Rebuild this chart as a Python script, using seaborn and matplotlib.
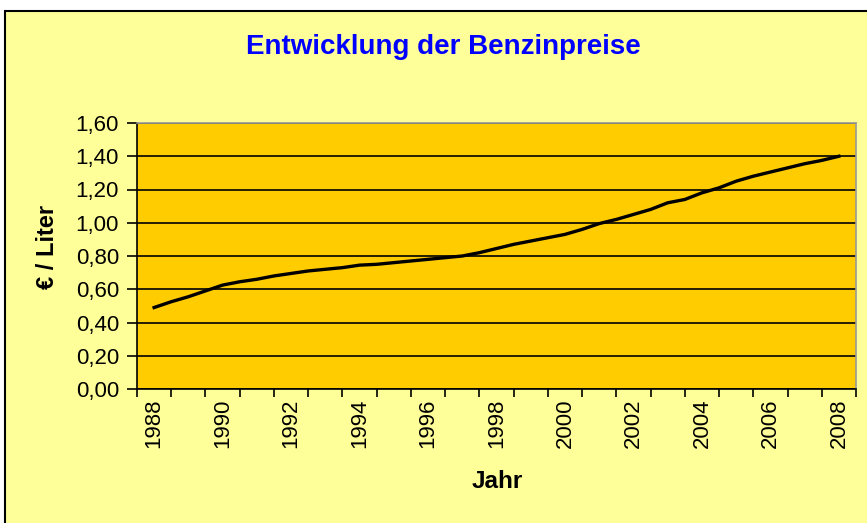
import numpy as np
import pandas as pd
import matplotlib
matplotlib.use("Agg")
import matplotlib.pyplot as plt
from matplotlib.patches import Rectangle
from matplotlib.ticker import FixedLocator, FuncFormatter
import seaborn as sns

# half-yearly fuel price readings (EUR per litre)
years = [1988.0, 1988.5, 1989.0, 1989.5, 1990.0, 1990.5, 1991.0, 1991.5,
         1992.0, 1992.5, 1993.0, 1993.5, 1994.0, 1994.5, 1995.0, 1995.5,
         1996.0, 1996.5, 1997.0, 1997.5, 1998.0, 1998.5, 1999.0, 1999.5,
         2000.0, 2000.5, 2001.0, 2001.5, 2002.0, 2002.5, 2003.0, 2003.5,
         2004.0, 2004.5, 2005.0, 2005.5, 2006.0, 2006.5, 2007.0, 2007.5,
         2008.0]
prices = [0.49, 0.525, 0.555, 0.59, 0.625, 0.645, 0.66, 0.68,
          0.695, 0.71, 0.72, 0.73, 0.745, 0.75, 0.76, 0.77,
          0.78, 0.79, 0.80, 0.82, 0.845, 0.87, 0.89, 0.91,
          0.93, 0.96, 0.995, 1.02, 1.05, 1.08, 1.12, 1.14,
          1.18, 1.21, 1.25, 1.28, 1.305, 1.33, 1.355, 1.375,
          1.40]
year_labels = list(range(1988, 2009, 2))
y_ticks = [0.0, 0.2, 0.4, 0.6, 0.8, 1.0, 1.2, 1.4, 1.6]

df = pd.DataFrame({"Jahr": years, "Preis": prices})

plt.rcParams["font.family"] = ["Liberation Sans", "DejaVu Sans"]

fig = plt.figure(figsize=(8.67, 5.23), dpi=100, facecolor="white")
# chart area background with black border on top/left
fig.patches.append(Rectangle((5 / 867, -0.1), 1.2, 1 - 11 / 523 + 0.1,
                             transform=fig.transFigure, facecolor="#FFFF99",
                             edgecolor="black", linewidth=1.5, zorder=-10))

ax = fig.add_axes([137 / 867, 1 - 389 / 523, (856 - 137) / 867, (389 - 123) / 523])
ax.set_facecolor("#FFCC00")

sns.lineplot(data=df, x="Jahr", y="Preis", ax=ax, color="black", linewidth=2.4)

ax.set_xlim(1987.5, 2008.5)
ax.set_ylim(0, 1.6)

ax.set_yticks(y_ticks)
ax.yaxis.set_major_formatter(FuncFormatter(lambda v, p: f"{v:.2f}".replace(".", ",")))
ax.grid(axis="y", color="black", linewidth=1.2)
ax.set_axisbelow(True)

ax.set_xticks(year_labels)
ax.set_xticklabels([str(y) for y in year_labels], rotation=90)
ax.xaxis.set_minor_locator(FixedLocator(np.arange(1987.5, 2009, 1.0)))
ax.tick_params(axis="x", which="major", length=0, pad=7, labelsize=16)
ax.tick_params(axis="x", which="minor", length=6, width=1.2, color="black")
ax.tick_params(axis="y", length=7, width=1.2, labelsize=16, pad=6)

for side in ["top", "right"]:
    ax.spines[side].set_color("#999999")
    ax.spines[side].set_linewidth(1.2)
for side in ["left", "bottom"]:
    ax.spines[side].set_color("black")
    ax.spines[side].set_linewidth(1.2)

ax.set_xlabel("")
ax.set_ylabel("")
fig.text(47 / 867, 1 - 247 / 523, "€ / Liter", rotation=90, ha="center", va="center",
         fontsize=17, fontweight="bold")
fig.text(497 / 867, 1 - 481 / 523, "Jahr", ha="center", va="center",
         fontsize=17.5, fontweight="bold")
fig.text(443 / 867, 1 - 47 / 523, "Entwicklung der Benzinpreise", ha="center", va="center",
         fontsize=20, fontweight="bold", color="#0000FF")

fig.savefig("out.png", dpi=100, facecolor=fig.get_facecolor())
